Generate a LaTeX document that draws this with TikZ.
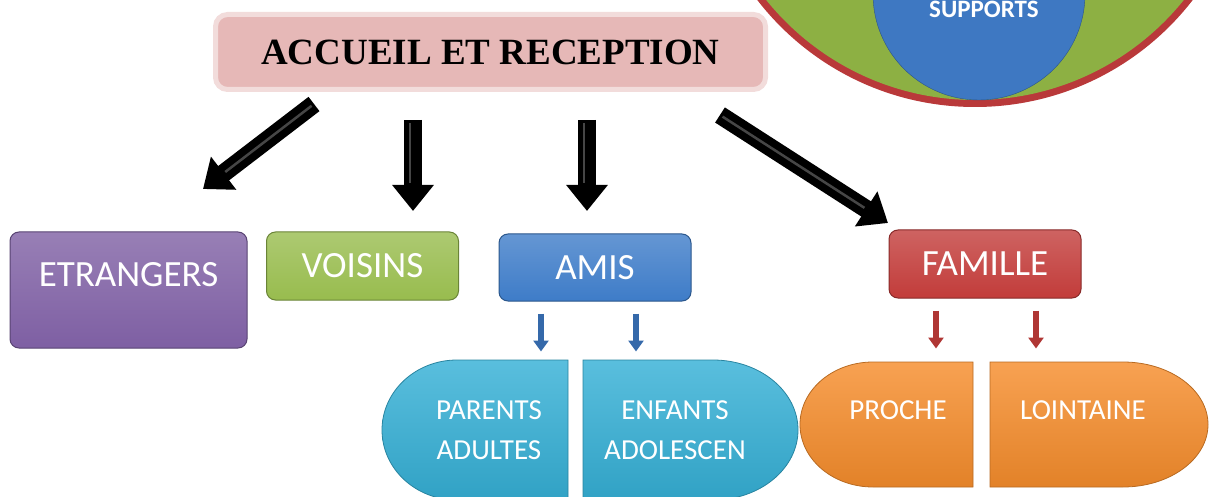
\documentclass[tikz,border=0pt]{standalone}
\usepackage{fontspec}
\setmainfont{Liberation Serif}
\setsansfont{Carlito}
\usetikzlibrary{arrows.meta}
\definecolor{titlefill}{HTML}{E6B8B7}
\definecolor{titleedge}{HTML}{F2DCDB}
\definecolor{ringred}{HTML}{B9393A}
\definecolor{ringgreen}{HTML}{8DB043}
\definecolor{corebl}{HTML}{3E78C2}
\definecolor{etrcol}{HTML}{7E5FA3}
\definecolor{voicol}{HTML}{98BC4E}
\definecolor{amicol}{HTML}{3E7CC8}
\definecolor{famcol}{HTML}{C23C3A}
\definecolor{cyancol}{HTML}{35B0D6}
\definecolor{orgcol}{HTML}{F68D2C}

\begin{document}
\begin{tikzpicture}[x=1pt, y=-1pt,
	box/.style={rounded corners=9pt, draw=#1!70!black, line width=1pt, top color=#1!80!white, bottom color=#1, text=white, font=\sffamily\fontsize{37}{40}\selectfont, minimum width=192pt, minimum height=67pt},
	bigarrow/.style={black, line width=18pt, -{Triangle[width=40pt,length=26pt]}},
	shine/.style={gray!55!black, line width=2.5pt, shorten >=28pt, shorten <=3pt},
	smallarrow/.style={#1, line width=6pt, -{Triangle[width=15pt,length=11pt]}},
	half/.style={draw=#1!75!black, line width=0.8pt, top color=#1!82!white, bottom color=#1!92!black},
	halftext/.style={text=white, font=\sffamily\fontsize{29}{40}\selectfont, align=center}]
	\useasboundingbox (0,0) rectangle (1210,497);
	\clip (0,0) rectangle (1210,497);
	\fill[ringred] (975,-168) circle (275);
	\fill[ringgreen] (975,-168) circle (268);
	\filldraw[fill=corebl, draw=corebl!70!black] (979,-6) circle (106);
	\node[text=white, font=\sffamily\bfseries\fontsize{25}{27}\selectfont] (supports) at (984,9) {SUPPORTS};
	\node[draw=titleedge, line width=5pt, fill=titlefill, rounded corners=12pt, minimum width=550pt, minimum height=75pt, font=\bfseries\fontsize{37}{40}\selectfont] (title) at (490.5,52) {ACCUEIL ET RECEPTION};
	\node[box=etrcol, minimum width=237pt, minimum height=116pt, text height=24pt, text depth=32pt] (etrangers) at (128.5,290) {ETRANGERS};
	\node[box=voicol, minimum height=68pt] (voisins) at (362.5,266) {VOISINS};
	\node[box=amicol] (amis) at (595,267.5) {AMIS};
	\node[box=famcol, minimum height=68pt] (famille) at (985,264) {FAMILLE};
	\coordinate (a1s) at (314,104); \coordinate (a1e) at (203,189);
	\coordinate (a2s) at (413,120); \coordinate (a2e) at (413,211);
	\coordinate (a3s) at (587,120); \coordinate (a3e) at (587,211);
	\coordinate (a4s) at (720,115); \coordinate (a4e) at (888,223);
	\draw[bigarrow] (a1s) -- (a1e);
	\draw[bigarrow] (a2s) -- (a2e);
	\draw[bigarrow] (a3s) -- (a3e);
	\draw[bigarrow] (a4s) -- (a4e);
	\draw[shine] (a1s) -- (a1e);
	\draw[shine] ([xshift=-3pt]a2s) -- ([xshift=-3pt]a2e);
	\draw[shine] ([xshift=-3pt]a3s) -- ([xshift=-3pt]a3e);
	\draw[shine] (a4s) -- (a4e);
	\path[half=cyancol] (568,360) -- (457,360) arc[start angle=270, end angle=90, x radius=75, y radius=70] -- (568,500) -- cycle;
	\path[half=cyancol] (583,500) -- (713,500) arc[start angle=90, end angle=-90, x radius=85, y radius=70] -- (583,360) -- cycle;
	\path[half=orgcol] (973,362) -- (873,362) arc[start angle=270, end angle=90, x radius=73, y radius=62.5] -- (973,487) -- cycle;
	\path[half=orgcol] (990,487) -- (1123,487) arc[start angle=90, end angle=-90, x radius=85, y radius=62.5] -- (990,362) -- cycle;
	\node[halftext] (parents) at (489,430) {PARENTS\\ADULTES};
	\node[halftext] (enfants) at (675,430) {ENFANTS\\ADOLESCEN};
	\node[halftext] (proche) at (898,410) {PROCHE};
	\node[halftext] (lointaine) at (1083,410) {LOINTAINE};
	\draw[smallarrow=amicol!85!black] ([xshift=-54pt,yshift=-12pt]amis.south) -- ([xshift=-54pt,yshift=-50pt]amis.south);
	\draw[smallarrow=amicol!85!black] ([xshift=41pt,yshift=-12pt]amis.south) -- ([xshift=41pt,yshift=-50pt]amis.south);
	\draw[smallarrow=famcol!90!black] ([xshift=-49pt,yshift=-12pt]famille.south) -- ([xshift=-49pt,yshift=-50pt]famille.south);
	\draw[smallarrow=famcol!90!black] ([xshift=51pt,yshift=-12pt]famille.south) -- ([xshift=51pt,yshift=-50pt]famille.south);
\end{tikzpicture}
\end{document}
